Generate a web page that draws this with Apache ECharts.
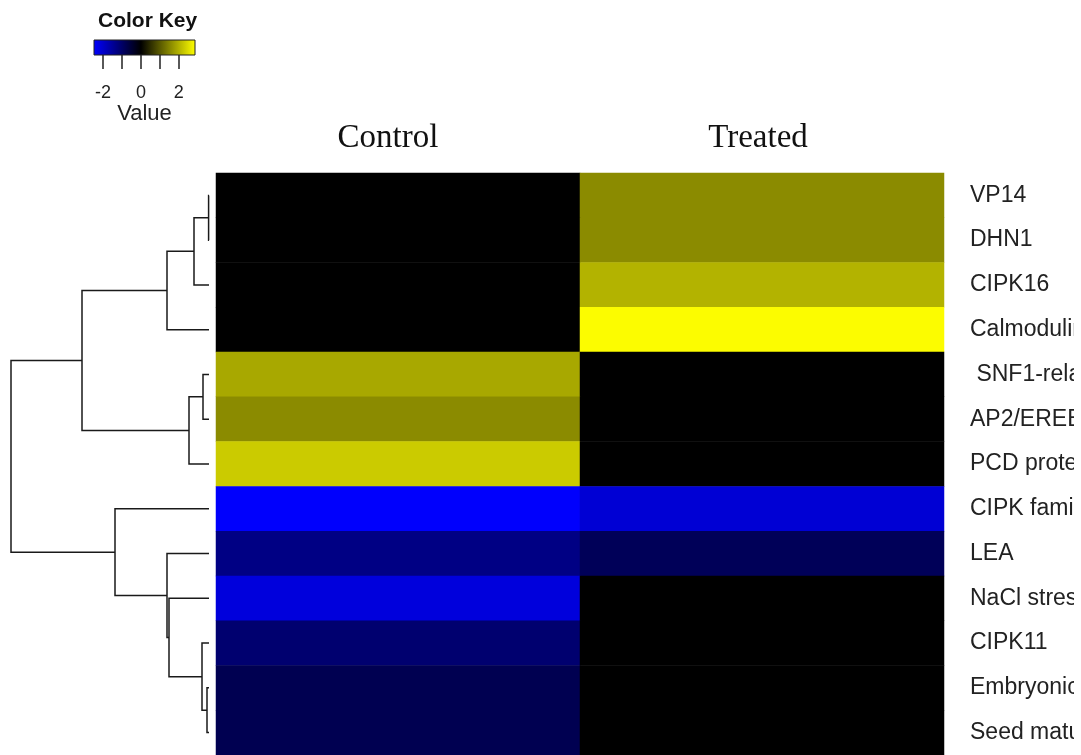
<!DOCTYPE html>
<html>
<head>
<meta charset="utf-8">
<script src="https://cdn.jsdelivr.net/npm/echarts@6/dist/echarts.min.js"></script>
<style>
  html, body { margin: 0; padding: 0; background: #ffffff; }
  #chart { width: 1081px; height: 755px; }
</style>
</head>
<body>
<div id="chart"></div>
<script>
// Conditions (heatmap columns)
const conditions = ['Control', 'Treated'];

// Genes in dendrogram leaf order, top to bottom
const genes = [
  'VP14', 'DHN1', 'CIPK16', 'Calmodulin', ' SNF1-related kinase', 'AP2/EREBP',
  'PCD protein', 'CIPK family', 'LEA', 'NaCl stress protein', 'CIPK11',
  'Embryonic protein', 'Seed maturation protein'
];

// Expression values per gene
const controlValues = [0, 0, 0, 0, 1.88, 1.55, 2.27, -2.45, -1.28, -2.13, -1.08, -0.78, -0.78];
const treatedValues = [1.55, 1.55, 2.0, 2.82, 0, 0, 0, -2.05, -0.85, 0, 0, 0, 0];

// Colour key range and ticks
const keyMin = -2.47;
const keyMax = 2.85;
const keyTicks = [-2, -1, 0, 1, 2];
const keyLabels = [-2, 0, 2];

// Row dendrogram: [childA, childB, height]; leaves are 'L<i>', earlier merges 'M<j>'
const merges = [
  ['L0', 'L1', 0.02],
  ['M0', 'L2', 0.75],
  ['M1', 'L3', 2.1],
  ['L4', 'L5', 0.3],
  ['M3', 'L6', 1.0],
  ['M2', 'M4', 6.35],
  ['L11', 'L12', 0.1],
  ['L10', 'M6', 0.35],
  ['L9', 'M7', 2.0],
  ['L8', 'M8', 2.1],
  ['L7', 'M9', 4.7],
  ['M5', 'M10', 9.9]
];

// blue -> black -> yellow, black pinned at zero
function valueColor(v) {
  if (v < 0) {
    const t = Math.min(1, v / keyMin);
    return 'rgb(0,0,' + Math.round(255 * t) + ')';
  }
  const t = Math.min(1, v / keyMax);
  const c = Math.round(255 * t);
  return 'rgb(' + c + ',' + c + ',0)';
}

const rampSteps = Math.round((keyMax - keyMin) / 0.01);
const ramp = [];
for (let i = 0; i <= rampSteps; i++) {
  ramp.push(valueColor(keyMin + (keyMax - keyMin) * i / rampSteps));
}

const heatData = [];
genes.forEach((g, i) => {
  heatData.push([0, i, controlValues[i]]);
  heatData.push([1, i, treatedValues[i]]);
});

// resolve dendrogram node positions: [height, row position]
function nodePos(id, done) {
  if (id[0] === 'L') return [0, +id.slice(1)];
  return done[+id.slice(1)];
}
const mergePos = [];
const dendroData = [];
merges.forEach(m => {
  const a = nodePos(m[0], mergePos);
  const b = nodePos(m[1], mergePos);
  const h = m[2];
  mergePos.push([h, (a[1] + b[1]) / 2]);
  dendroData.push([a[0], a[1], b[0], b[1], h]);
});

const keyStopZero = (0 - keyMin) / (keyMax - keyMin);

const chart = echarts.init(document.getElementById('chart'));
chart.setOption({
  backgroundColor: '#ffffff',
  animation: false,
  title: {
    text: 'Color Key',
    left: 93, top: 6,
    textStyle: { fontFamily: 'Liberation Sans', fontWeight: 'bold', fontSize: 21, color: '#111' }
  },
  // the row-label margin ends a few pixels before the page edge
  graphic: [
    { type: 'rect', right: 0, top: 0, z: 100, silent: true,
      shape: { width: 7, height: 755 }, style: { fill: '#ffffff' } }
  ],
  grid: [
    { left: 216, top: 173, width: 728, height: 582, containLabel: false, outerBoundsMode: 'none' },   // heatmap
    { left: 11, top: 173, width: 198, height: 582, containLabel: false, outerBoundsMode: 'none' },    // dendrogram
    { left: 94, top: 40, width: 101, height: 15, containLabel: false, outerBoundsMode: 'none' }       // colour key
  ],
  xAxis: [
    {
      type: 'category', gridIndex: 0, data: conditions, position: 'top',
      axisLine: { show: false }, axisTick: { show: false },
      axisLabel: {
        margin: 18, fontFamily: 'Liberation Serif', fontSize: 33, color: '#111',
        lineHeight: 33,
        formatter: v => v === 'Control' ? '{c|' + v + '}' : '{t|' + v + '}',
        rich: {
          c: { fontFamily: 'Liberation Serif', fontSize: 33, color: '#111', padding: [0, 20, 0, 0] },
          t: { fontFamily: 'Liberation Serif', fontSize: 33, color: '#111', padding: [0, 8, 0, 0] }
        }
      }
    },
    {
      type: 'value', gridIndex: 1, min: 0, max: 9.9, inverse: true, show: false
    },
    {
      type: 'value', gridIndex: 2, min: keyMin, max: keyMax,
      axisLine: { show: false }, splitLine: { show: false },
      axisTick: { show: true, customValues: keyTicks, length: 14, lineStyle: { color: '#222', width: 1.5 } },
      axisLabel: {
        customValues: keyLabels, margin: 29,
        fontFamily: 'Liberation Sans', fontSize: 18, color: '#222'
      },
      name: 'Value', nameLocation: 'middle', nameGap: 46,
      nameTextStyle: { fontFamily: 'Liberation Sans', fontSize: 22, color: '#222' }
    }
  ],
  yAxis: [
    {
      type: 'category', gridIndex: 0, data: genes, inverse: true, position: 'right',
      axisLine: { show: false }, axisTick: { show: false },
      axisLabel: { margin: 26, align: 'left', fontFamily: 'Liberation Sans', fontSize: 23, color: '#222',
        padding: [4, 0, 0, 0] }
    },
    {
      type: 'value', gridIndex: 1, min: -0.5, max: genes.length - 0.5, inverse: true, show: false
    },
    {
      type: 'value', gridIndex: 2, min: 0, max: 1, show: false
    }
  ],
  visualMap: {
    show: false, type: 'continuous', seriesIndex: 0,
    min: keyMin, max: keyMax, dimension: 2,
    inRange: { color: ramp }
  },
  series: [
    {
      type: 'heatmap', xAxisIndex: 0, yAxisIndex: 0, data: heatData,
      itemStyle: { borderWidth: 0 }, emphasis: { disabled: true }
    },
    {
      type: 'custom', xAxisIndex: 1, yAxisIndex: 1, data: dendroData,
      renderItem: (params, api) => {
        const p1 = api.coord([api.value(0), api.value(1)]);
        const p2 = api.coord([api.value(4), api.value(1)]);
        const p3 = api.coord([api.value(4), api.value(3)]);
        const p4 = api.coord([api.value(2), api.value(3)]);
        return {
          type: 'polyline',
          shape: { points: [p1, p2, p3, p4] },
          style: { stroke: '#1a1a1a', lineWidth: 1.5, fill: null }
        };
      },
      silent: true
    },
    {
      type: 'custom', xAxisIndex: 2, yAxisIndex: 2, data: [[keyMin, keyMax]],
      renderItem: (params, api) => {
        const a = api.coord([api.value(0), 1]);
        const b = api.coord([api.value(1), 0]);
        return {
          type: 'rect',
          shape: { x: a[0], y: a[1], width: b[0] - a[0], height: b[1] - a[1] },
          style: {
            fill: new echarts.graphic.LinearGradient(0, 0, 1, 0, [
              { offset: 0, color: valueColor(keyMin) },
              { offset: keyStopZero, color: valueColor(0) },
              { offset: 1, color: valueColor(keyMax) }
            ]),
            stroke: '#222', lineWidth: 1
          }
        };
      },
      silent: true
    }
  ]
});
</script>
</body>
</html>
